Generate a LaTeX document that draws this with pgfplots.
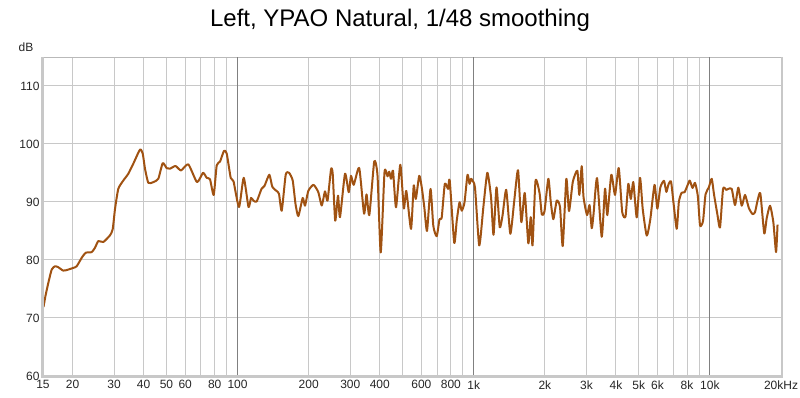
\documentclass[border=0pt]{standalone}
\usepackage{fontspec}
\setmainfont{Liberation Sans}
\usepackage{pgfplots}
\pgfplotsset{compat=1.18}
\definecolor{curvec}{RGB}{160,82,18}
\definecolor{gridc}{RGB}{200,200,200}
\definecolor{decc}{RGB}{128,128,128}
\definecolor{framec}{RGB}{185,185,185}
\definecolor{shadowc}{RGB}{200,200,200}
% x = log10(frequency in Hz), y = level in dB
\pgfplotstableread{
lf dB
1.1782 71.91
1.1867 73.83
1.1985 76.03
1.2129 78.35
1.2269 78.92
1.2409 78.75
1.2621 78.17
1.2832 78.35
1.3044 78.64
1.3188 78.92
1.3400 80.38
1.3569 81.25
1.3823 81.36
1.3963 82.12
1.4103 83.27
1.4314 83.10
1.4598 84.26
1.4712 85.30
1.4810 88.78
1.4949 92.26
1.5161 93.70
1.5373 94.87
1.5585 96.61
1.5868 99.04
1.5983 98.35
1.6080 95.74
1.6220 93.30
1.6432 93.43
1.6643 94.00
1.6830 96.70
1.6999 95.83
1.7139 95.74
1.7372 96.21
1.7605 95.44
1.7914 96.49
1.8282 93.43
1.8536 95.04
1.8693 94.17
1.8833 93.91
1.8989 91.22
1.9116 96.31
1.9256 96.96
1.9425 98.82
1.9540 98.35
1.9709 94.17
1.9828 93.57
2.0061 89.13
2.0260 94.17
2.0463 89.13
2.0569 90.70
2.0675 90.23
2.0810 90.09
2.1013 92.26
2.1140 92.78
2.1344 94.70
2.1471 92.61
2.1649 91.91
2.1754 91.39
2.1869 88.49
2.2038 94.70
2.2178 95.04
2.2334 93.70
2.2453 89.65
2.2572 87.57
2.2758 90.70
2.2855 89.36
2.2995 91.91
2.3215 92.96
2.3419 91.69
2.3563 89.39
2.3702 91.83
2.3808 90.23
2.3956 95.62
2.4028 94.87
2.4134 86.78
2.4253 91.10
2.4337 87.39
2.4549 94.87
2.4706 91.69
2.4803 94.52
2.4918 92.96
2.5150 95.86
2.5354 88.00
2.5460 91.30
2.5578 87.74
2.5786 96.96
2.5925 94.57
2.6061 81.30
2.6222 95.17
2.6349 94.43
2.6421 95.22
2.6497 94.00
2.6582 95.39
2.6709 89.08
2.6891 96.43
2.7039 88.90
2.7145 91.91
2.7344 85.36
2.7458 92.83
2.7547 90.52
2.7691 94.52
2.7797 92.56
2.7907 89.08
2.8021 85.01
2.8170 92.26
2.8288 85.88
2.8432 84.09
2.8551 87.04
2.8644 87.34
2.8775 93.13
2.8911 92.26
2.8983 93.70
2.9173 82.99
2.9279 86.75
2.9398 89.95
2.9491 88.49
2.9609 89.95
2.9736 94.70
2.9821 93.13
2.9885 94.00
2.9940 93.70
3.0054 92.43
3.0232 82.52
3.0405 89.04
3.0575 95.04
3.0732 90.82
3.0837 84.35
3.0964 92.52
3.1100 85.65
3.1218 87.65
3.1375 92.09
3.1549 84.52
3.1714 90.17
3.1875 95.48
3.2015 86.52
3.2159 91.57
3.2311 82.87
3.2413 87.39
3.2489 82.52
3.2616 93.65
3.2785 91.57
3.2883 87.83
3.2997 88.43
3.3158 94.00
3.3260 90.05
3.3370 87.04
3.3514 90.23
3.3653 89.13
3.3768 82.40
3.3920 94.00
3.4034 88.43
3.4195 93.48
3.4386 95.39
3.4471 91.22
3.4572 96.17
3.4648 90.87
3.4797 87.74
3.4903 89.48
3.4996 85.48
3.5072 87.91
3.5220 94.12
3.5419 84.00
3.5559 92.31
3.5656 87.74
3.5826 94.70
3.5982 91.22
3.6139 95.86
3.6287 88.26
3.6427 87.51
3.6545 93.13
3.6651 90.52
3.6757 93.43
3.6901 87.34
3.7041 94.17
3.7155 88.78
3.7325 84.21
3.7477 87.04
3.7655 92.96
3.7774 88.85
3.7901 92.52
3.8057 93.65
3.8155 91.74
3.8248 93.04
3.8354 93.53
3.8459 89.83
3.8595 85.37
3.8684 90.00
3.8798 91.57
3.8925 91.69
3.9052 92.87
3.9145 93.70
3.9264 92.43
3.9370 93.30
3.9488 91.04
3.9582 85.95
3.9709 86.75
3.9814 91.30
3.9954 92.52
4.0077 94.00
4.0174 91.30
4.0314 87.91
4.0428 85.60
4.0556 92.26
4.0691 92.09
4.0780 92.26
4.0924 92.26
4.1064 89.48
4.1203 92.47
4.1347 89.36
4.1487 91.22
4.1648 88.96
4.1805 87.91
4.1911 88.26
4.2016 90.23
4.2135 91.48
4.2300 84.61
4.2406 87.22
4.2546 89.36
4.2686 86.52
4.2800 81.36
4.2863 86.09
}\resp
\begin{document}
\begin{tikzpicture}
\path[use as bounding box] (0pt,0pt) rectangle (800pt,398pt);
\node[font=\fontsize{24}{28}\selectfont, anchor=center] at (400pt,378pt) {Left, YPAO Natural, 1/48 smoothing};
\begin{axis}[
  name=ax,
  at={(43pt,22pt)}, anchor=south west, scale only axis,
  width=738pt, height=319pt,
  xmin=1.17609, xmax=4.30103, ymin=60, ymax=115,
  ytick={60,70,80,90,100,110},
  yticklabels={60,70,80,90,100,110},
  xtick={1.17609,1.30103,1.47712,1.60206,1.69897,1.77815,1.84510,1.90309,1.95424,
         2.30103,2.47712,2.60206,2.69897,2.77815,2.84510,2.90309,2.95424,
         3.30103,3.47712,3.60206,3.69897,3.77815,3.84510,3.90309,3.95424,4.30103},
  xticklabels={15,20,30,40,50,60,,80,,200,300,400,,600,,800,,2k,3k,4k,5k,6k,,8k,,20kHz},
  extra x ticks={2,3,4},
  extra x tick labels={100,1k,10k},
  extra x tick style={grid=major, major grid style={decc, line width=1pt}},
  grid=major,
  major grid style={gridc, line width=1pt},
  major tick length=0pt,
  axis line style={framec, line width=1pt},
  tick label style={font=\fontsize{12}{14}\selectfont, text=black!85},
  xticklabel style={yshift=-1pt},
  clip=true,
]
\addplot[curvec, line width=2pt, line join=round, smooth, tension=0.35] table[x=lf, y=dB] {\resp};
\end{axis}
\draw[shadowc, line width=2.5pt] ([xshift=-0.75pt]ax.north west) -- ([xshift=-0.75pt,yshift=-0.75pt]ax.south west) -- ([xshift=0.75pt,yshift=-0.75pt]ax.south east) -- ([xshift=0.75pt]ax.north east);
\node[font=\fontsize{12}{14}\selectfont, text=black!85] at (26pt,351pt) {dB};
\end{tikzpicture}
\end{document}
